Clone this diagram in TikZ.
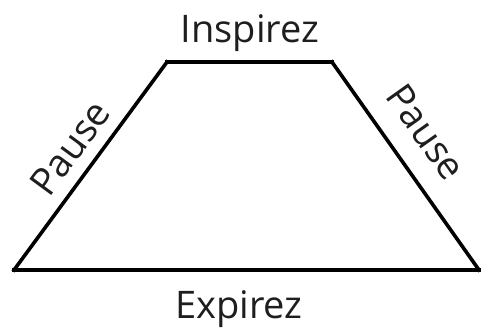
\documentclass[tikz,border=0pt]{standalone}
\usepackage{fontspec}
\setmainfont{Open Sans}
\usepackage{tikz}
\usetikzlibrary{positioning, calc}
\definecolor{ink}{RGB}{0,0,0}
\definecolor{txt}{RGB}{30,30,30}
\tikzset{
  side/.style    ={line width=3.6pt, color=ink, line cap=rect},
  breath/.style  ={font=\fontsize{38}{44}\selectfont, color=txt, inner sep=0pt},
}

\begin{document}
\begin{tikzpicture}[x=1pt, y=1pt]
\useasboundingbox (0,0) rectangle (481,329);
\coordinate (bl) at (14,59);
\coordinate (br) at (479,59);
\coordinate (tr) at (332,267);
\coordinate (tl) at (167,267);
\draw[side] (bl) -- (tl);
\draw[side] (tl) -- (tr);
\draw[side] (tr) -- (br);
\draw[side] (br) -- (bl);
\node[breath, anchor=base] (insp) at (250,286) {Inspirez};
\node[breath, anchor=base] (exp) at (239,11) {Expirez};
\node[breath, rotate=53.7] (pauseL) at (70,181) {Pause};
\node[breath, rotate=-54.6] (pauseR) at (426,197) {Pause};
\end{tikzpicture}
\end{document}
